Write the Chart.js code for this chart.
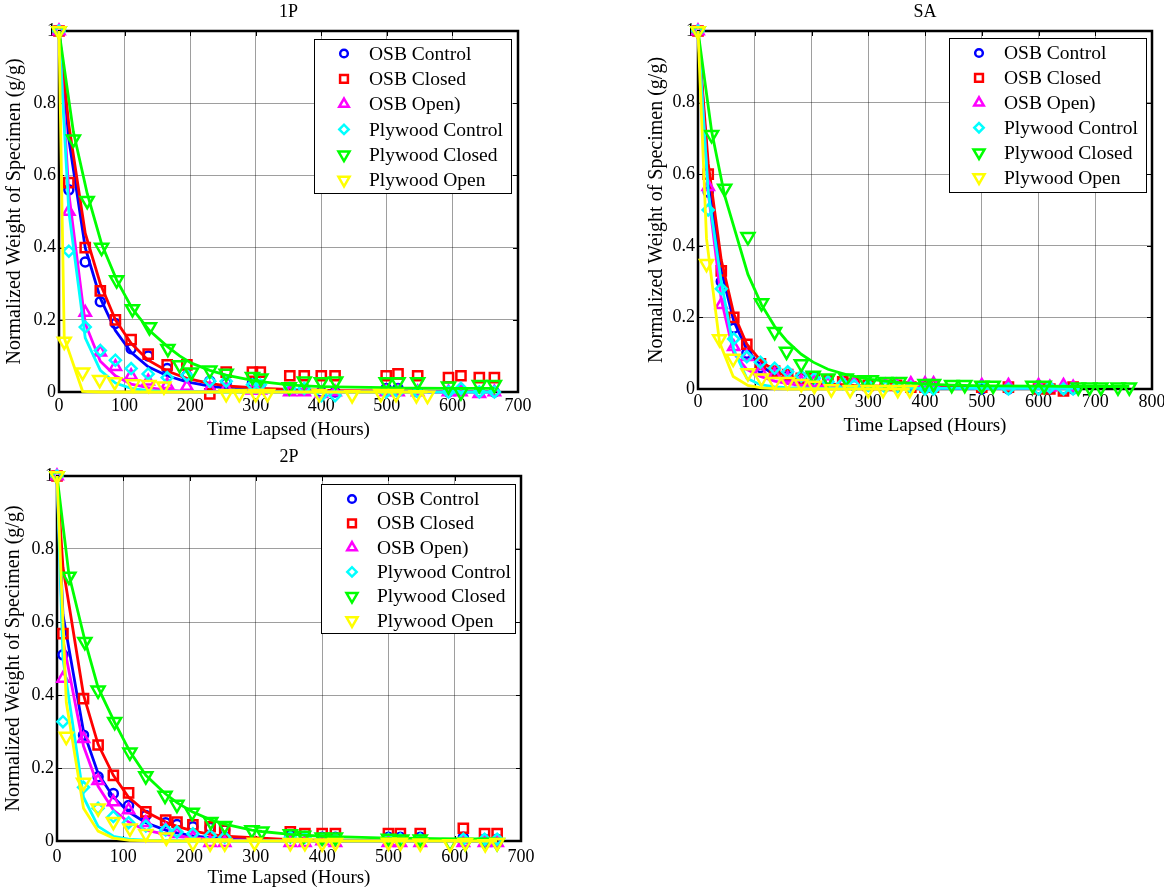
<!DOCTYPE html>
<html>
<head>
<meta charset="utf-8">
<script src="https://cdn.jsdelivr.net/npm/chart.js@4.4.0/dist/chart.umd.min.js"></script>
<style>
html, body { margin: 0; padding: 0; background: #fff; width: 1164px; height: 892px; overflow: hidden; }
.panel { position: absolute; }
</style>
</head>
<body>
<div class="panel" style="left:0;top:0"><canvas id="c1" width="540" height="445"></canvas></div>
<div class="panel" style="left:640px;top:0"><canvas id="c2" width="540" height="445"></canvas></div>
<div class="panel" style="left:0;top:445px"><canvas id="c3" width="540" height="447"></canvas></div>
<script>
// ---- data ----
const seriesNames = ['OSB Control', 'OSB Closed', 'OSB Open)', 'Plywood Control', 'Plywood Closed', 'Plywood Open'];

// 1P
const p1Hours = [0, 15, 40, 63, 86, 110, 136, 165, 195, 230, 255, 295, 307, 352, 374, 400, 421, 499, 517, 547, 594, 613, 641, 664];
const p1GreenHours = [0, 22, 43, 65, 88, 112, 138, 166, 184, 202, 230, 255, 295, 308, 351, 374, 400, 422, 499, 517, 547, 594, 613, 641, 664];
const p1YellowHours = [0, 8, 36, 62, 85, 113, 137, 160, 255, 275, 300, 318, 397, 447, 491, 514, 545, 562];
const p1OsbControl = [1, 0.56, 0.36, 0.25, 0.19, 0.12, 0.10, 0.065, 0.045, 0.03, 0.025, 0.025, 0.02, 0.005, 0.01, 0, 0, 0.01, 0.01, 0, 0, 0.005, 0, 0];
const p1OsbClosed = [1, 0.58, 0.40, 0.28, 0.20, 0.145, 0.105, 0.075, 0.075, -0.005, 0.055, 0.055, 0.055, 0.045, 0.045, 0.045, 0.045, 0.045, 0.05, 0.045, 0.04, 0.045, 0.04, 0.04];
const p1OsbOpen = [1, 0.50, 0.22, 0.11, 0.07, 0.045, 0.03, 0.02, 0.015, 0.01, 0.01, 0.005, 0.005, 0, 0, -0.005, 0, 0, 0, 0, 0, 0, -0.005, 0];
const p1PlyControl = [1, 0.39, 0.18, 0.115, 0.088, 0.065, 0.05, 0.04, 0.046, 0.03, 0.03, 0.02, 0.02, 0.01, 0.01, -0.01, -0.01, 0, 0, 0, 0, 0.01, 0, 0];
const p1PlyClosed = [1, 0.70, 0.53, 0.40, 0.31, 0.23, 0.18, 0.12, 0.075, 0.055, 0.06, 0.051, 0.042, 0.038, 0.014, 0.03, 0.028, 0.03, 0.028, 0.028, 0.028, 0.016, 0, 0.02, 0.02];
const p1PlyOpen = [1, 0.14, 0.055, 0.034, 0.028, 0.022, 0.02, 0.016, -0.005, -0.005, -0.005, -0.005, -0.005, -0.008, -0.005, -0.005, -0.008, -0.01];
const p1OsbControlFit = [1, 0.70, 0.40, 0.26, 0.17, 0.11, 0.07, 0.045, 0.028, 0.016, 0.011, 0.007, 0.006, 0.004, 0.003, 0.002, 0.002, 0.001, 0.001, 0.001, 0.001, 0.001, 0.001, 0.001];
const p1OsbClosedFit = [1, 0.74, 0.44, 0.30, 0.20, 0.135, 0.088, 0.058, 0.038, 0.024, 0.017, 0.012, 0.01, 0.007, 0.006, 0.005, 0.004, 0.003, 0.003, 0.003, 0.002, 0.002, 0.002, 0.002];
const p1OsbOpenFit = [1, 0.55, 0.19, 0.085, 0.045, 0.022, 0.012, 0.005, 0.002, 0.001, 0.001, 0, 0, 0, 0, 0, 0, 0, 0, 0, 0, 0, 0, 0];
const p1PlyControlFit = [1, 0.50, 0.15, 0.06, 0.025, 0.01, 0.004, 0.002, 0.001, 0, 0, 0, 0, 0, 0, 0, 0, 0, 0, 0, 0, 0, 0, 0];
const p1PlyClosedFit = [1, 0.72, 0.55, 0.41, 0.31, 0.23, 0.17, 0.125, 0.10, 0.08, 0.06, 0.047, 0.032, 0.029, 0.02, 0.017, 0.015, 0.014, 0.012, 0.011, 0.011, 0.01, 0.01, 0.01, 0.01];
const p1PlyOpenFit = [1, 0.15, 0.002, 0, 0, 0, 0, 0, 0, 0, 0, 0, 0, 0, 0, 0, 0, 0];

// SA
const p2Hours = [0, 18, 41, 63, 86, 110, 135, 158, 182, 205, 229, 255, 275, 300, 330, 350, 375, 400, 415, 500, 547, 600, 620, 644, 661];
const p2GreenHours = [0, 24, 47, 88, 112, 135, 156, 182, 203, 229, 261, 294, 305, 330, 355, 400, 415, 447, 470, 500, 520, 590, 610, 670, 690, 710, 740, 760];
const p2YellowHours = [0, 15, 38, 62, 88, 112, 135, 158, 182, 205, 235, 268, 300, 326, 352, 373];
const p2OsbControl = [1, 0.55, 0.30, 0.17, 0.10, 0.06, 0.045, 0.035, 0.03, 0.025, 0.02, 0.015, 0.01, 0.01, 0.008, 0.005, 0.005, 0.005, 0.003, 0, 0, 0, 0, 0, 0];
const p2OsbClosed = [1, 0.60, 0.33, 0.20, 0.125, 0.07, 0.05, 0.04, 0.03, 0.03, 0.025, 0.02, 0.015, 0.01, 0.01, 0.01, 0.005, 0.005, 0.005, 0.005, 0.005, 0, 0, -0.005, 0.005];
const p2OsbOpen = [1, 0.565, 0.235, 0.118, 0.09, 0.05, 0.04, 0.03, 0.02, 0.02, 0.015, 0.015, 0.015, 0.01, 0.01, 0.01, 0.015, 0.015, 0.015, 0.01, 0.01, 0.01, 0.005, 0.01, 0.005];
const p2PlyControl = [1, 0.50, 0.28, 0.14, 0.09, 0.075, 0.058, 0.048, 0.036, 0.03, 0.02, 0.015, 0.01, 0.01, 0.005, 0.005, 0.005, 0, 0, 0.005, 0, 0, 0.005, 0, 0];
const p2PlyClosed = [1, 0.71, 0.56, 0.425, 0.24, 0.16, 0.105, 0.07, 0.038, 0.03, 0.03, 0.025, 0.025, 0.02, 0.02, 0.015, 0.015, 0.012, 0.012, 0.01, 0.01, 0.01, 0.01, 0.005, 0.005, 0.005, 0.005, 0.005];
const p2PlyOpen = [1, 0.35, 0.14, 0.085, 0.045, 0.03, 0.02, 0.02, 0.015, 0.01, 0, -0.002, -0.002, -0.002, -0.002, -0.002];
const p2OsbControlFit = [1, 0.60, 0.33, 0.19, 0.11, 0.065, 0.04, 0.025, 0.016, 0.011, 0.008, 0.006, 0.005, 0.004, 0.003, 0.003, 0.002, 0.002, 0.002, 0.001, 0.001, 0.001, 0.001, 0.001, 0.001];
const p2OsbClosedFit = [1, 0.63, 0.36, 0.21, 0.125, 0.08, 0.05, 0.035, 0.025, 0.018, 0.014, 0.012, 0.01, 0.009, 0.008, 0.007, 0.006, 0.005, 0.005, 0.004, 0.004, 0.003, 0.003, 0.003, 0.003];
const p2OsbOpenFit = [1, 0.55, 0.25, 0.10, 0.055, 0.035, 0.022, 0.015, 0.01, 0.008, 0.006, 0.005, 0.004, 0.004, 0.003, 0.003, 0.003, 0.003, 0.003, 0.002, 0.002, 0.002, 0.002, 0.002, 0.002];
const p2PlyControlFit = [1, 0.55, 0.30, 0.11, 0.03, 0.012, 0.006, 0.004, 0.003, 0.002, 0.002, 0.002, 0.002, 0.002, 0.002, 0.002, 0.002, 0.002, 0.002, 0.002, 0.002, 0.002, 0.002, 0.002, 0.002];
const p2PlyClosedFit = [1, 0.72, 0.54, 0.32, 0.235, 0.175, 0.135, 0.097, 0.075, 0.055, 0.04, 0.03, 0.027, 0.022, 0.018, 0.014, 0.013, 0.011, 0.01, 0.009, 0.009, 0.008, 0.008, 0.007, 0.007, 0.007, 0.007, 0.007];
const p2PlyOpenFit = [1, 0.42, 0.13, 0.035, 0.01, 0.003, 0.001, 0, 0, 0, 0, 0, 0, 0, 0, 0];

// 2P
const p3Hours = [0, 9, 40, 62, 85, 108, 134, 164, 181, 205, 231, 253, 352, 374, 400, 420, 500, 518, 548, 613, 645, 664];
const p3GreenHours = [0, 18, 42, 62, 87, 110, 134, 163, 181, 204, 232, 253, 294, 309, 352, 372, 400, 420, 500, 520, 548, 593, 616, 646, 664];
const p3YellowHours = [0, 14, 40, 62, 85, 110, 134, 165, 205, 231, 253, 298, 352, 374, 400, 420, 500, 518, 548, 593, 616, 646, 664];
const p3OsbControl = [1, 0.51, 0.29, 0.176, 0.13, 0.097, 0.07, 0.05, 0.045, 0.039, 0.037, 0.03, 0.015, 0.01, 0.01, 0.01, 0.01, 0.01, 0.01, 0.01, 0.005, 0.005];
const p3OsbClosed = [1, 0.568, 0.39, 0.263, 0.18, 0.132, 0.08, 0.057, 0.052, 0.044, 0.039, 0.03, 0.025, 0.02, 0.02, 0.02, 0.02, 0.02, 0.02, 0.035, 0.02, 0.02];
const p3OsbOpen = [1, 0.445, 0.28, 0.165, 0.107, 0.085, 0.05, 0.03, 0.02, 0.01, -0.005, -0.005, -0.005, -0.005, 0, -0.005, -0.005, -0.005, -0.005, -0.005, -0.005, -0.005];
const p3PlyControl = [1, 0.327, 0.147, 0.09, 0.067, 0.05, 0.041, 0.03, 0.025, 0.02, 0.015, 0.01, 0.01, 0.01, 0.005, 0.005, 0.005, 0.005, 0.005, 0.005, 0.005, 0.005];
const p3PlyClosed = [1, 0.725, 0.546, 0.413, 0.327, 0.243, 0.178, 0.125, 0.10, 0.078, 0.053, 0.042, 0.03, 0.027, 0.019, 0.015, 0.01, 0.01, 0.007, 0.005, 0.005, -0.005, -0.005, -0.005, -0.005];
const p3PlyOpen = [1, 0.286, 0.16, 0.09, 0.053, 0.035, 0.02, 0.01, -0.005, -0.006, -0.006, -0.004, -0.005, -0.005, -0.006, -0.005, -0.004, -0.004, -0.006, -0.008, -0.005, -0.008, -0.005];
const p3OsbControlFit = [1, 0.62, 0.30, 0.185, 0.12, 0.08, 0.05, 0.03, 0.022, 0.014, 0.009, 0.006, 0.001, 0.001, 0, 0, 0, 0, 0, 0, 0, 0];
const p3OsbClosedFit = [1, 0.75, 0.40, 0.265, 0.18, 0.12, 0.08, 0.052, 0.04, 0.028, 0.018, 0.013, 0.004, 0.003, 0.002, 0.002, 0.001, 0.001, 0.001, 0.001, 0.001, 0.001];
const p3OsbOpenFit = [1, 0.55, 0.26, 0.15, 0.085, 0.052, 0.03, 0.018, 0.013, 0.009, 0.005, 0.003, 0, 0, 0, 0, 0, 0, 0, 0, 0, 0];
const p3PlyControlFit = [1, 0.50, 0.12, 0.04, 0.013, 0.005, 0.002, 0.001, 0, 0, 0, 0, 0, 0, 0, 0, 0, 0, 0, 0, 0, 0];
const p3PlyClosedFit = [1, 0.73, 0.55, 0.42, 0.325, 0.245, 0.18, 0.13, 0.105, 0.08, 0.058, 0.046, 0.03, 0.026, 0.018, 0.016, 0.013, 0.012, 0.008, 0.008, 0.007, 0.006, 0.006, 0.006, 0.006];
const p3PlyOpenFit = [1, 0.38, 0.09, 0.027, 0.008, 0.002, 0.001, 0, 0, 0, 0, 0, 0, 0, 0, 0, 0, 0, 0, 0, 0, 0, 0];

const yTicks = [0, 0.2, 0.4, 0.6, 0.8, 1];

// ---- styling ----
const FONT = 'Liberation Serif';
const colors = ['#0000ff', '#ff0000', '#ff00ff', '#00ffff', '#00ff00', '#ffff00'];
const markers = [
  { pointStyle: 'circle', radius: 4.5, rotation: 0 },
  { pointStyle: 'rect', radius: 6.5, rotation: 0 },
  { pointStyle: 'triangle', radius: 6.5, rotation: 0 },
  { pointStyle: 'rectRot', radius: 5.5, rotation: 0 },
  { pointStyle: 'triangle', radius: 7.5, rotation: 180 },
  { pointStyle: 'triangle', radius: 7.5, rotation: 180 }
];

function pts(xs, ys) {
  return xs.map((x, i) => ({ x: x, y: ys[i] }));
}

function buildDatasets(groups) {
  const ds = [];
  groups.forEach((g, i) => {
    const m = markers[i];
    ds.push({
      label: seriesNames[i],
      data: pts(g.t, g.w),
      showLine: false,
      pointStyle: m.pointStyle,
      pointRadius: m.radius,
      pointRotation: m.rotation,
      pointBorderWidth: 2.5,
      borderColor: colors[i],
      backgroundColor: 'rgba(0,0,0,0)',
      clip: false,
      order: -2 * i
    });
    ds.push({
      label: seriesNames[i] + ' fit',
      data: pts(g.t, g.fit),
      showLine: true,
      pointRadius: 0,
      borderColor: colors[i],
      borderWidth: 2.8,
      tension: 0,
      clip: false,
      order: -2 * i - 1
    });
  });
  return ds;
}

function drawMarker(ctx, m, x, y, r) {
  if (Chart.helpers && Chart.helpers.drawPoint) {
    Chart.helpers.drawPoint(ctx, { pointStyle: m.pointStyle, radius: r, rotation: m.rotation, borderWidth: 2.5 }, x, y);
  }
}

const framePlugin = {
  id: 'frame',
  beforeDatasetsDraw(chart) {
    const { ctx, chartArea: a, scales } = chart;
    ctx.save();
    ctx.strokeStyle = '#000';
    ctx.lineWidth = 1;
    ctx.beginPath();
    scales.x.ticks.forEach(t => {
      const px = Math.round(scales.x.getPixelForValue(t.value)) + 0.5;
      ctx.moveTo(px, a.bottom); ctx.lineTo(px, a.bottom - 5);
      ctx.moveTo(px, a.top); ctx.lineTo(px, a.top + 5);
    });
    scales.y.ticks.forEach(t => {
      const py = Math.round(scales.y.getPixelForValue(t.value)) + 0.5;
      ctx.moveTo(a.left, py); ctx.lineTo(a.left + 5, py);
      ctx.moveTo(a.right, py); ctx.lineTo(a.right - 5, py);
    });
    ctx.stroke();
    ctx.lineWidth = 2.5;
    ctx.strokeRect(a.left, a.top, a.right - a.left, a.bottom - a.top);
    ctx.restore();
  },
  afterDraw(chart, args, opts) {
    const { ctx, chartArea: a } = chart;
    ctx.save();
    ctx.fillStyle = '#000';
    ctx.font = '18px "' + FONT + '"';
    ctx.textAlign = 'center';
    ctx.textBaseline = 'middle';
    ctx.fillText(opts.title, (a.left + a.right) / 2, 12);

    const L = opts.legend;
    ctx.fillStyle = '#fff';
    ctx.fillRect(L.x, L.y, L.w, L.h);
    ctx.strokeStyle = '#000';
    ctx.lineWidth = 1;
    ctx.strokeRect(L.x + 0.5, L.y + 0.5, L.w, L.h);
    ctx.font = '19.5px "' + FONT + '"';
    seriesNames.forEach((name, i) => {
      const ry = L.y + L.first + i * L.step;
      ctx.strokeStyle = colors[i];
      ctx.fillStyle = 'rgba(0,0,0,0)';
      ctx.lineWidth = 2.5;
      drawMarker(ctx, markers[i], L.x + L.mx, ry, markers[i].radius * 0.85);
      ctx.fillStyle = '#000';
      ctx.textAlign = 'left';
      ctx.fillText(name, L.x + L.tx, ry + 1);
    });
    ctx.restore();
  }
};

function makePanel(id, title, xMax, area, groups, legend) {
  const canvas = document.getElementById(id);
  const W = canvas.width, H = canvas.height;
  return new Chart(canvas, {
    type: 'scatter',
    data: { datasets: buildDatasets(groups) },
    plugins: [framePlugin],
    options: {
      responsive: false,
      animation: false,
      devicePixelRatio: 1,
      events: [],
      layout: { padding: { left: 0, top: area.top, right: W - area.right, bottom: 0 } },
      plugins: {
        legend: { display: false },
        title: { display: false },
        tooltip: { enabled: false },
        frame: { title: title, legend: legend }
      },
      scales: {
        x: {
          type: 'linear', min: 0, max: xMax,
          border: { display: false },
          grid: { color: 'rgba(0,0,0,0.38)', lineWidth: 1, drawTicks: false },
          ticks: { stepSize: 100, color: '#000', padding: area.xPad, font: { family: FONT, size: 18 } },
          title: { display: true, text: 'Time Lapsed (Hours)', color: '#000', font: { family: FONT, size: 19 }, padding: { top: 0, bottom: area.xTitlePad } },
          afterFit: s => { s.height = H - area.bottom; }
        },
        y: {
          type: 'linear', min: 0, max: 1,
          border: { display: false },
          grid: { color: 'rgba(0,0,0,0.38)', lineWidth: 1, drawTicks: false },
          afterBuildTicks: s => { s.ticks = yTicks.map(v => ({ value: v })); },
          ticks: { color: '#000', padding: 3, font: { family: FONT, size: 18 }, callback: v => String(Math.round(v * 10) / 10) },
          title: { display: true, text: 'Normalized Weight of Specimen (g/g)', color: '#000', font: { family: FONT, size: 20 }, padding: { top: area.yTitlePad, bottom: 0 } },
          afterFit: s => { s.width = area.left; }
        }
      }
    }
  });
}

makePanel('c1', '1P', 700,
  { left: 59, top: 31, right: 518, bottom: 392, xPad: 3, xTitlePad: 3.5, yTitlePad: 3 },
  [
    { t: p1Hours, w: p1OsbControl, fit: p1OsbControlFit },
    { t: p1Hours, w: p1OsbClosed, fit: p1OsbClosedFit },
    { t: p1Hours, w: p1OsbOpen, fit: p1OsbOpenFit },
    { t: p1Hours, w: p1PlyControl, fit: p1PlyControlFit },
    { t: p1GreenHours, w: p1PlyClosed, fit: p1PlyClosedFit },
    { t: p1YellowHours, w: p1PlyOpen, fit: p1PlyOpenFit }
  ],
  { x: 314, y: 39, w: 197, h: 154, first: 14.5, step: 25.3, mx: 30, tx: 55 });

makePanel('c2', 'SA', 800,
  { left: 58, top: 31, right: 512, bottom: 389, xPad: 2, xTitlePad: 8, yTitlePad: 4.5 },
  [
    { t: p2Hours, w: p2OsbControl, fit: p2OsbControlFit },
    { t: p2Hours, w: p2OsbClosed, fit: p2OsbClosedFit },
    { t: p2Hours, w: p2OsbOpen, fit: p2OsbOpenFit },
    { t: p2Hours, w: p2PlyControl, fit: p2PlyControlFit },
    { t: p2GreenHours, w: p2PlyClosed, fit: p2PlyClosedFit },
    { t: p2YellowHours, w: p2PlyOpen, fit: p2PlyOpenFit }
  ],
  { x: 309, y: 38, w: 197, h: 154, first: 15, step: 24.9, mx: 30, tx: 55 });

makePanel('c3', '2P', 700,
  { left: 57, top: 31, right: 521, bottom: 396, xPad: 5, xTitlePad: 2.3, yTitlePad: 1.5 },
  [
    { t: p3Hours, w: p3OsbControl, fit: p3OsbControlFit },
    { t: p3Hours, w: p3OsbClosed, fit: p3OsbClosedFit },
    { t: p3Hours, w: p3OsbOpen, fit: p3OsbOpenFit },
    { t: p3Hours, w: p3PlyControl, fit: p3PlyControlFit },
    { t: p3GreenHours, w: p3PlyClosed, fit: p3PlyClosedFit },
    { t: p3YellowHours, w: p3PlyOpen, fit: p3PlyOpenFit }
  ],
  { x: 321, y: 39, w: 194, h: 149, first: 15, step: 24.3, mx: 31, tx: 56 });
</script>
</body>
</html>
